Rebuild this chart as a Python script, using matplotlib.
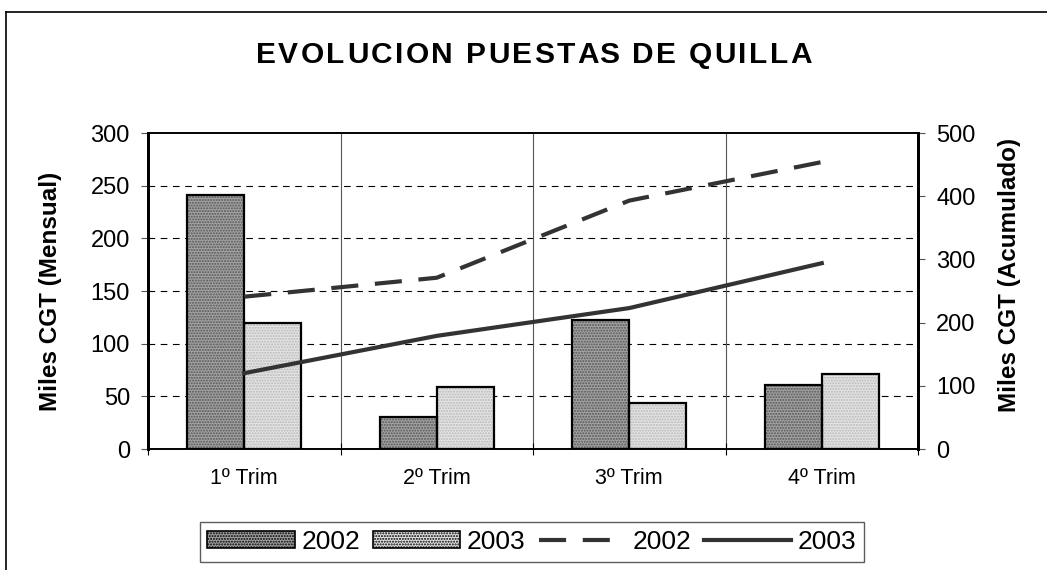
import numpy as np
import matplotlib
matplotlib.use('Agg')
import matplotlib.pyplot as plt
from matplotlib.lines import Line2D
from matplotlib.patches import Patch

plt.rcParams['font.family'] = ['Liberation Sans', 'DejaVu Sans']

# Data
trimestres = ['1º Trim', '2º Trim', '3º Trim', '4º Trim']
mensual_2002 = [241, 30, 122, 61]
mensual_2003 = [120, 59, 44, 71]
acumulado_2002 = [241, 271, 393, 454]
acumulado_2003 = [120, 179, 223, 294]
years = ['2002', '2003']
title = 'EVOLUCION PUESTAS DE QUILLA'

W, H = 1047, 570
fig = plt.figure(figsize=(W / 100, H / 100), dpi=100)
ax = fig.add_axes([148 / W, 1 - 449 / H, 770 / W, 316 / H])
ax2 = ax.twinx()

x = np.arange(len(trimestres))
w = 0.295
c2002, c2003 = '#a3a3a3', '#e4e4e4'

# bars: stipple hatch first, then the black outline
ax.bar(x - w / 2, mensual_2002, w, color=c2002, hatch='......', edgecolor='#555555', linewidth=0, zorder=2)
ax.bar(x + w / 2, mensual_2003, w, color=c2003, hatch='......', edgecolor='#b8b8b8', linewidth=0, zorder=2)
ax.bar(x - w / 2, mensual_2002, w, fill=False, edgecolor='black', linewidth=1.6, zorder=3)
ax.bar(x + w / 2, mensual_2003, w, fill=False, edgecolor='black', linewidth=1.6, zorder=3)

ax2.plot(x, acumulado_2002, color='#333333', lw=3, dashes=(6.5, 4), solid_capstyle='butt', zorder=4)
ax2.plot(x, acumulado_2003, color='#333333', lw=3, zorder=4)

ax.set_xlim(-0.5, 3.5)
ax.set_ylim(0, 300)
ax2.set_ylim(0, 500)
ax.set_yticks(range(0, 301, 50))
ax2.set_yticks(range(0, 501, 100))

# grid: dashed horizontal, solid vertical at category boundaries
for v in range(50, 300, 50):
    ax.axhline(v, color='black', lw=0.8, dashes=(6, 5), zorder=1)
for b in [0.5, 1.5, 2.5]:
    ax.axvline(b, color='#555555', lw=0.8, zorder=1)

ax.set_xticks(x)
ax.set_xticklabels(trimestres, fontsize=15.5)
ax.tick_params(axis='x', length=0, pad=14)
ax.set_xticks([-0.5, 0.5, 1.5, 2.5, 3.5], minor=True)
ax.tick_params(axis='x', which='minor', length=8, direction='inout', width=0.8)

ax.tick_params(axis='y', labelsize=17, length=5, width=0.8, color='#555555', pad=8)
ax2.tick_params(axis='y', labelsize=17, length=5, width=0.8, color='#555555', pad=8)

for a in (ax, ax2):
    a.spines['top'].set_linewidth(1.2)
    a.spines['bottom'].set_linewidth(1.2)
    a.spines['left'].set_linewidth(2)
    a.spines['right'].set_linewidth(2)

ax.set_ylabel('Miles CGT (Mensual)', fontsize=17.5, fontweight='bold')
ax2.set_ylabel('Miles CGT (Acumulado)', fontsize=17.5, fontweight='bold')
ax.yaxis.label.set_va('center')
ax2.yaxis.label.set_va('center')
ax.yaxis.set_label_coords((50 - 148) / 770, 0.5)
ax2.yaxis.set_label_coords((1010 - 148) / 770, 0.55)

# title with wide letter spacing, as in the original
renderer = fig.canvas.get_renderer()
tstyle = dict(fontsize=21.5, fontweight='bold')


def text_width(s):
    t = fig.text(0, 0, s + '|', **tstyle)
    wd = t.get_window_extent(renderer).width
    t.remove()
    t = fig.text(0, 0, '|', **tstyle)
    wd -= t.get_window_extent(renderer).width
    t.remove()
    return wd


natural = text_width(title)
x0, x1 = 256, 812
track = (x1 - x0 - natural) / (len(title) - 1)
for i, ch in enumerate(title):
    px = x0 + text_width(title[:i]) + i * track
    fig.text(px / W, 1 - 63 / H, ch, ha='left', va='baseline', **tstyle)

# outer chart frame (cut off at right and bottom)
fig.add_artist(Line2D([6 / W, 6 / W], [0, 1 - 12 / H], color='black', lw=1.2, transform=fig.transFigure))
fig.add_artist(Line2D([6 / W, 1], [1 - 12 / H, 1 - 12 / H], color='black', lw=1.2, transform=fig.transFigure))

handles = [
    Patch(facecolor=c2002, edgecolor='black', hatch='......', lw=1.2),
    Patch(facecolor=c2003, edgecolor='black', hatch='......', lw=1.2),
    Line2D([], [], color='#333333', lw=3, dashes=(6.5, 4)),
    Line2D([], [], color='#333333', lw=3),
]
leg = fig.legend(handles, years + years, loc='center', bbox_to_anchor=(532 / W, 1 - 542 / H),
                 ncol=4, fontsize=19, frameon=True, fancybox=False, edgecolor='#333333',
                 handlelength=3.3, handleheight=0.6, handletextpad=0.25, columnspacing=0.5,
                 borderpad=0.3, borderaxespad=0)
leg.get_frame().set_linewidth(1.0)

fig.savefig('out.png', dpi=100)
